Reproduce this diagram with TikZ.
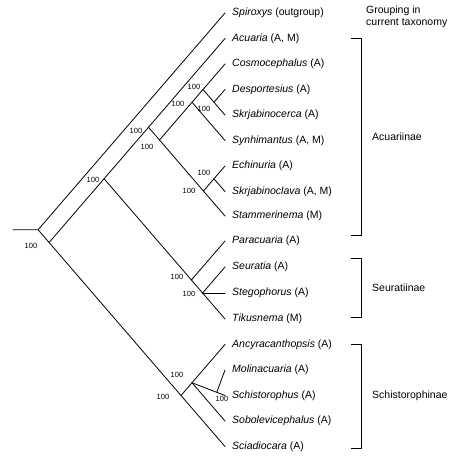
\documentclass[tikz,border=0pt]{standalone}
\usepackage{fontspec}
\setmainfont{Liberation Sans}
\usetikzlibrary{calc}
\begin{document}
\begin{tikzpicture}[x=1pt,y=-1pt,
  br/.style={line width=0.8pt,line cap=round},
  leaf/.style={anchor=west,inner sep=0pt,font=\fontsize{10.5}{12}\selectfont},
  sup/.style={inner sep=0pt,font=\fontsize{7.5}{8}\selectfont},
  grp/.style={anchor=west,inner sep=0pt,font=\fontsize{10.5}{12}\selectfont,align=left},
  bk/.style={line width=0.8pt}]
\useasboundingbox (0,0) rectangle (472,469);
% tips
\foreach \n/\y in {t0/13,t1/38.5,t2/64,t3/89.5,t4/115,t5/140.5,t6/166,t7/191.5,t8/216,t9/241,t10/267,t11/293,t12/319,t13/344.5,t14/370,t15/395.5,t16/421,t17/446.5}
  \coordinate (\n) at (225,\y);
% internal nodes
\coordinate (stub) at (13,229.75);
\coordinate (root) at (38.1,229.75);
\coordinate (n1) at (49.1,242.5);
\coordinate (nA) at (104.1,178.75);
\coordinate (c1) at (148.5,127.25);
\coordinate (c2) at (159.5,140);
\coordinate (c3) at (192,102.25);
\coordinate (c3a) at (203,89.5);
\coordinate (c3b) at (214,102.25);
\coordinate (c4) at (203.4,191);
\coordinate (c4a) at (214,178.75);
\coordinate (nP) at (191.4,280);
\coordinate (nSe) at (202.6,293);
\coordinate (nS) at (181,395.5);
\coordinate (nSc) at (192,382.75);
\coordinate (nM) at ($(nSc)!0.75!(t15)$);
% branches
\draw[br] (stub) -- (root) -- (t0);
\draw[br] (root) -- (n1) -- (nA) -- (c1) -- (t1);
\draw[br] (c1) -- (c2) -- (c3) -- (c3a) -- (t2);
\draw[br] (c3a) -- (c3b) -- (t4);
\draw[br] (c3b) -- (t3);
\draw[br] (c3) -- (t5);
\draw[br] (c2) -- (c4) -- (c4a) -- (t6);
\draw[br] (c4a) -- (t7);
\draw[br] (c4) -- (t8);
\draw[br] (nA) -- (nP) -- (t9);
\draw[br] (nP) -- (nSe) -- (t10);
\draw[br] (nSe) -- (t11);
\draw[br] (nSe) -- (t12);
\draw[br] (n1) -- (nS) -- (nSc) -- (t13);
\draw[br] (nSc) -- (nM) -- (t15);
\draw[br] (nM) -- (t14);
\draw[br] (nSc) -- (t16);
\draw[br] (nS) -- (t17);
% support values
\node[sup] (s1) at (31,246) {100};
\node[sup] (s2) at (93,180) {100};
\node[sup] (s3) at (136,131) {100};
\node[sup] (s4) at (147,147) {100};
\node[sup] (s5) at (178,104) {100};
\node[sup] (s6) at (194,87) {100};
\node[sup] (s7) at (204,109) {100};
\node[sup] (s8) at (204,173) {100};
\node[sup] (s9) at (189,191) {100};
\node[sup] (s10) at (177,277) {100};
\node[sup] (s11) at (189,294) {100};
\node[sup] (s12) at (177,375) {100};
\node[sup] (s13) at (163,397) {100};
\node[sup] (s14) at (222,399) {100};
% leaf labels
\foreach \n/\t/\s in {t0/Spiroxys/(outgroup),t1/Acuaria/{(A, M)},t2/Cosmocephalus/(A),t3/Desportesius/(A),t4/Skrjabinocerca/(A),t5/Synhimantus/{(A, M)},t6/Echinuria/(A),t7/Skrjabinoclava/{(A, M)},t8/Stammerinema/(M),t9/Paracuaria/(A),t10/Seuratia/(A),t11/Stegophorus/(A),t12/Tikusnema/(M),t13/Ancyracanthopsis/(A),t14/Molinacuaria/(A),t15/Schistorophus/(A),t16/Sobolevicephalus/(A),t17/Sciadiocara/(A)}
  \node[leaf] (l\n) at ($(\n)+(7,0)$) {\textit{\t}\ \s};
% groupings
\node[grp,anchor=north west] (gtitle) at (366,6) {Grouping in\\current taxonomy};
\coordinate (b1t) at (361,38.5);
\coordinate (b1b) at (361,235.5);
\coordinate (b2t) at (361,258.5);
\coordinate (b2b) at (361,317);
\coordinate (b3t) at (361,344);
\coordinate (b3b) at (361,448);
\draw[bk] ($(b1t)+(-10,0)$) -- (b1t) -- (b1b) -- ($(b1b)+(-10,0)$);
\draw[bk] ($(b2t)+(-10,0)$) -- (b2t) -- (b2b) -- ($(b2b)+(-10,0)$);
\draw[bk] ($(b3t)+(-10,0)$) -- (b3t) -- (b3b) -- ($(b3b)+(-10,0)$);
\node[grp] (g1) at (372,137) {Acuariinae};
\node[grp] (g2) at (372,288) {Seuratiinae};
\node[grp] (g3) at (372,396) {Schistorophinae};
\end{tikzpicture}
\end{document}
